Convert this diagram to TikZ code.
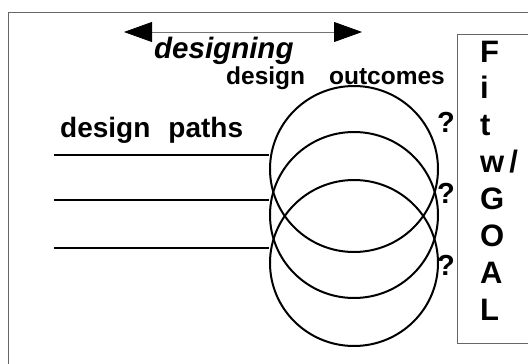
\documentclass[tikz,border=0pt]{standalone}
\usepackage{fontspec}
\usepackage{tikz}
\usetikzlibrary{positioning,arrows.meta,shapes.geometric}
\newfontfamily\lblfont{Liberation Sans}

\tikzset{
  lbl/.style={font=\lblfont\bfseries\fontsize{28}{32}\selectfont, inner sep=0pt, anchor=base west},
  qmark/.style={lbl, anchor=center, font=\lblfont\bfseries\fontsize{29}{33}\selectfont},
  frame/.style={draw=black!60, line width=1pt},
  outcome/.style={draw, ellipse, line width=2pt, minimum width=168pt, minimum height=166pt, inner sep=0pt},
  pathline/.style={line width=1.8pt}
}

\begin{document}
\begin{tikzpicture}[x=1pt,y=-1pt]
    \useasboundingbox (0,0) rectangle (528,364);
    \clip (0,0) rectangle (528,364);

    % Frames
    \draw[frame] (8,370) -- (8,12) -- (540,12);
    \draw[frame] (540,34) -- (457,34) -- (457,343) -- (540,343);

    % Designing arrow
    \coordinate (dl) at (124,32);
    \coordinate (dr) at (362,32);
    \draw[draw=black!55, line width=0.8pt, {Triangle[length=28pt,width=20pt,color=black]}-{Triangle[length=28pt,width=20pt,color=black]}] (dl) -- (dr);
    \node[lbl, font=\lblfont\bfseries\itshape\fontsize{29.5}{33}\selectfont] (designing) at (154,58) {designing};

    % Outcomes
    \node[outcome] (out1) at (354,169) {};
    \node[outcome] (out2) at (354,215) {};
    \node[outcome] (out3) at (354,263) {};
    \node[lbl, font=\lblfont\bfseries\fontsize{24.5}{28}\selectfont] (outlbl) at (226,84) {design\hspace{24pt}outcomes};

    % Design paths
    \node[lbl] (pathlbl) at (60,137) {design\hspace{18pt}paths};
    \coordinate (p1) at (54,155);
    \coordinate (p2) at (54,200);
    \coordinate (p3) at (54,248);
    \draw[pathline] (p1) -- (p1 -| out1.west);
    \draw[pathline] (p2) -- (p2 -| out2.west);
    \draw[pathline] (p3) -- (p3 -| out3.west);

    % Question marks
    \node[qmark] (q1) at (446,122) {?};
    \node[qmark] (q2) at (446,193) {?};
    \node[qmark] (q3) at (446,265) {?};

    % Fit w/ GOAL
    \foreach \ch [count=\i] in {F,i,t,w\,/,G,O,A,L}
        \node[lbl, font=\lblfont\bfseries\fontsize{31}{35}\selectfont] (fit\i) at (480,{62+36.9*(\i-1)}) {\ch};
\end{tikzpicture}
\end{document}
